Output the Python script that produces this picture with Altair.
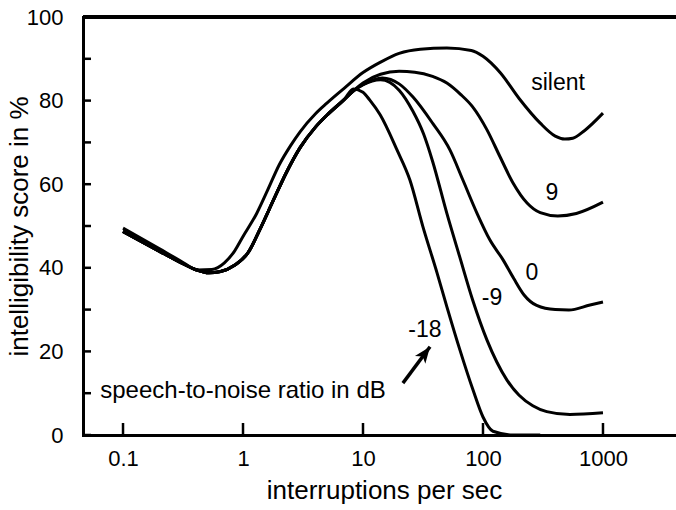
import altair as alt
import pandas as pd

# Intelligibility (%) versus interruption rate (per sec), one curve per condition.
# Below about 8 interruptions/sec all noise conditions follow the same path.
silent_x = [0.1, 0.2, 0.3, 0.42, 0.55, 0.7, 0.85, 1, 1.3, 1.6, 2, 2.5, 3, 4, 5, 7, 10, 14, 20,
            30, 50, 80, 100, 140, 200, 300, 400, 480, 560, 700, 1000]
silent_y = [49.5, 44.6, 41.7, 39.5, 39.6, 41.2, 44.0, 47.5, 53.0, 58.5, 64.6, 69.3, 72.6, 76.8,
            79.4, 83.0, 86.7, 89.2, 91.3, 92.3, 92.6, 92.0, 90.6, 86.6, 80.5, 74.6, 71.5, 70.8,
            71.0, 72.8, 77.0]

shared_x = [0.1, 0.2, 0.3, 0.4, 0.52, 0.65, 0.85, 1.1, 1.4, 1.8, 2.3, 3, 4, 5, 7]
shared_y = [48.7, 44.0, 41.3, 39.6, 38.8, 39.1, 40.6, 43.6, 49.5, 56.3, 62.8, 68.8, 73.6, 76.5,
            80.3]

snr9_x = [8.3, 10, 14, 20, 27, 38, 50, 65, 82, 108, 139, 178, 233, 300, 420, 600, 1000]
snr9_y = [82.3, 84.2, 86.3, 87.0, 86.8, 85.8, 84.2, 81.5, 78.5, 73.0, 66.5, 60.3, 55.5, 53.2,
          52.4, 53.0, 55.7]

snr0_x = [8.3, 10, 14.5, 20, 26, 38, 53, 68, 89, 114, 147, 180, 220, 280, 400, 520, 780, 1000]
snr0_y = [82.3, 83.8, 85.4, 84.0, 80.9, 74.6, 68.2, 61.0, 53.1, 46.7, 41.9, 37.5, 33.5, 31.0,
          30.0, 29.9, 31.1, 31.8]

snrm9_x = [8.3, 10, 14, 20, 26, 32, 38, 50, 64, 82, 108, 158, 200, 260, 340, 530, 1000]
snrm9_y = [82.3, 83.8, 85.0, 82.5, 77.5, 72.0, 65.5, 53.0, 42.6, 32.3, 22.7, 13.2, 9.5, 7.0,
           5.6, 4.9, 5.3]

snrm18_x = [8.3, 10, 11.4, 13.9, 19.2, 24.6, 31.6, 41.4, 50.1, 64.3, 82.5, 100, 121, 178, 300]
snrm18_y = [82.8, 82.0, 80.1, 76.6, 68.2, 61.0, 49.8, 38.8, 30.6, 20.3, 10.8, 4.3, 0.9, 0.0, 0.0]

# Curve labels
label_text = ["silent", "9", "0", "-9", "-18"]
label_x = [422, 376, 256, 119, 32.8]
label_y = [82.5, 56.2, 37.1, 31.1, 23.4]

legend_text = ["speech-to-noise ratio in dB"]
legend_x = [0.0646]
legend_y = [8.85]

# Arrow from the legend text towards the -18 curve (tail, tip)
arrow_x = [21.5, 36.2]
arrow_y = [12.4, 21.1]

x_ticks = [0.1, 1, 10, 100, 1000]
y_ticks = [0, 10, 20, 30, 40, 50, 60, 70, 80, 90, 100]
y_labels = [0, 20, 40, 60, 80, 100]

FONT = "Liberation Sans"
W, H = 593, 418


def curve(name, xs, ys):
    return pd.DataFrame({"rate": xs, "score": ys, "condition": name})


curves = pd.concat([
    curve("silent", silent_x, silent_y),
    curve("9", shared_x + snr9_x, shared_y + snr9_y),
    curve("0", shared_x + snr0_x, shared_y + snr0_y),
    curve("-9", shared_x + snrm9_x, shared_y + snrm9_y),
    curve("-18", shared_x + snrm18_x, shared_y + snrm18_y),
], ignore_index=True)

labels = pd.DataFrame({"t": label_text, "lx": label_x, "ly": label_y})
legend = pd.DataFrame({"t": legend_text, "lx": legend_x, "ly": legend_y})
arrow = pd.DataFrame({"ax": arrow_x, "ay": arrow_y, "order": [0, 1]})
tip = arrow.iloc[[-1]]
xt = pd.DataFrame({"v": x_ticks})
yt = pd.DataFrame({"v": y_ticks})

xscale = alt.Scale(type="log", domain=[0.0464, 4060], nice=False)
yscale = alt.Scale(domain=[0, 100], nice=False)

x_axis = alt.Axis(values=x_ticks, labelExpr="'' + datum.value", orient="bottom",
                  ticks=False, grid=False, domainColor="black", domainWidth=3,
                  domainCap="square", labelFont=FONT, labelFontSize=22, labelColor="black",
                  labelPadding=13, title="interruptions per sec", titleFont=FONT,
                  titleFontSize=26, titleFontWeight="normal", titleColor="black",
                  titleX=301, titleY=63, titleBaseline="alphabetic", titleAlign="center")
y_axis = alt.Axis(values=y_labels, orient="left", ticks=False, grid=False,
                  domainColor="black", domainWidth=3, domainCap="square",
                  labelFont=FONT, labelFontSize=22, labelColor="black", labelPadding=20,
                  title="intelligibility score in %", titleFont=FONT, titleFontSize=26,
                  titleFontWeight="normal", titleColor="black", titleAngle=270,
                  titleX=-56, titleY=209, titleBaseline="alphabetic", titleAlign="center")

lines = alt.Chart(curves).mark_line(color="black", strokeWidth=3, interpolate="monotone").encode(
    x=alt.X("rate:Q", scale=xscale, axis=x_axis),
    y=alt.Y("score:Q", scale=yscale, axis=y_axis),
    detail="condition:N",
)

# Inward-pointing tick marks and the top frame line
x_tick_marks = alt.Chart(xt).mark_rule(color="black", strokeWidth=2.5).encode(
    x=alt.X("v:Q", scale=xscale),
    y=alt.value(H),
    y2=alt.value(H - 12),
)
y_tick_marks = alt.Chart(yt).mark_rule(color="black", strokeWidth=2.5).encode(
    y=alt.Y("v:Q", scale=yscale),
    x=alt.value(0),
    x2=alt.value(8),
)
top_line = alt.Chart(yt).mark_rule(color="black", strokeWidth=3).encode(
    y=alt.datum(100),
    x=alt.value(0),
    x2=alt.value(W),
)

curve_labels = alt.Chart(labels).mark_text(
    font=FONT, fontSize=23, color="black", align="center", baseline="alphabetic"
).encode(
    x=alt.X("lx:Q", scale=xscale),
    y=alt.Y("ly:Q", scale=yscale),
    text="t:N",
)

legend_label = alt.Chart(legend).mark_text(
    font=FONT, fontSize=24, color="black", align="left", baseline="alphabetic"
).encode(
    x=alt.X("lx:Q", scale=xscale),
    y=alt.Y("ly:Q", scale=yscale),
    text="t:N",
)

shaft = alt.Chart(arrow).mark_line(color="black", strokeWidth=3.5).encode(
    x=alt.X("ax:Q", scale=xscale),
    y=alt.Y("ay:Q", scale=yscale),
    order="order:Q",
)

head = alt.Chart(tip).mark_point(
    shape="M0,0 L-0.75,1.9 L0,1.4 L0.75,1.9 Z", filled=True, color="black",
    size=300, angle=37, opacity=1
).encode(
    x=alt.X("ax:Q", scale=xscale),
    y=alt.Y("ay:Q", scale=yscale),
)

chart = alt.layer(
    lines, x_tick_marks, y_tick_marks, top_line, curve_labels, legend_label, shaft, head
).properties(
    width=W,
    height=H,
    padding={"left": 83, "top": 17, "right": 0, "bottom": 75},
    autosize=alt.AutoSizeParams(type="none"),
    background="white",
).configure_view(strokeWidth=0)

chart.save("out.html", embed_options={"renderer": "svg", "actions": False})
